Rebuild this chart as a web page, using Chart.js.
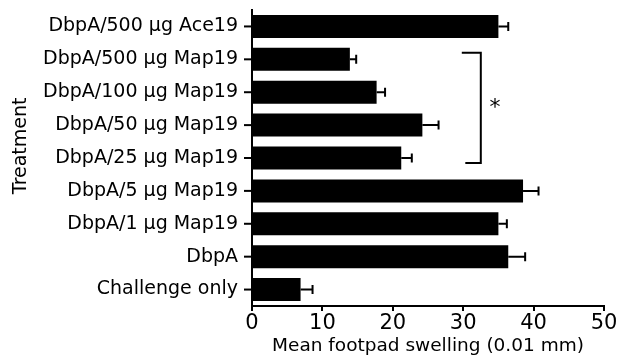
<!DOCTYPE html>
<html lang="en">
<head>
    <meta charset="UTF-8">
    <title>Mean footpad swelling</title>
    <script src="https://cdn.jsdelivr.net/npm/chart.js"></script>
    <style>
        body {
            margin: 0;
            background-color: white;
        }
    </style>
</head>
<body>
    <canvas id="swellingChart" width="618" height="359"></canvas>

    <script>
        const treatments = [
            'DbpA/500 μg Ace19',
            'DbpA/500 μg Map19',
            'DbpA/100 μg Map19',
            'DbpA/50 μg Map19',
            'DbpA/25 μg Map19',
            'DbpA/5 μg Map19',
            'DbpA/1 μg Map19',
            'DbpA',
            'Challenge only'
        ];
        const swelling = [35.0, 13.9, 17.7, 24.2, 21.2, 38.5, 35.0, 36.4, 6.9];
        const swellingErr = [1.4, 0.9, 1.2, 2.3, 1.5, 2.2, 1.2, 2.4, 1.7];
        const xTicks = [0, 10, 20, 30, 40, 50];

        // bracket around the Map19 groups that differ (*)
        const bracketFrom = 0.8;
        const bracketTo = 4.15;
        const bracketX = 32.5;
        const bracketTopStart = 29.8;
        const bracketBottomStart = 30.3;
        const starX = 34.5;
        const starY = 2.5;

        const fontFamily = '"DejaVu Sans", Arial, sans-serif';

        // error bars, y tick marks, bracket and the rotated y title
        const extras = {
            id: 'extras',
            afterDraw(chart) {
                const c = chart.ctx;
                const x = chart.scales.x;
                const y = chart.scales.y;
                const axisX = chart.chartArea.left;
                c.save();
                c.strokeStyle = 'black';
                c.lineWidth = 2;
                swelling.forEach((v, i) => {
                    const yc = y.getPixelForValue(i);
                    const x0 = x.getPixelForValue(v);
                    const x1 = x.getPixelForValue(v + swellingErr[i]);
                    c.beginPath();
                    c.moveTo(x0, yc);
                    c.lineTo(x1, yc);
                    c.moveTo(x1, yc - 4.5);
                    c.lineTo(x1, yc + 4.5);
                    c.stroke();
                });

                // tick marks on the y axis, at each category
                y.ticks.forEach((t, i) => {
                    const yc = y.getPixelForTick(i);
                    c.beginPath();
                    c.moveTo(axisX - 8, yc);
                    c.lineTo(axisX + 1, yc);
                    c.stroke();
                });

                c.beginPath();
                c.moveTo(x.getPixelForValue(bracketTopStart), y.getPixelForValue(bracketFrom));
                c.lineTo(x.getPixelForValue(bracketX), y.getPixelForValue(bracketFrom));
                c.lineTo(x.getPixelForValue(bracketX), y.getPixelForValue(bracketTo));
                c.lineTo(x.getPixelForValue(bracketBottomStart), y.getPixelForValue(bracketTo));
                c.stroke();

                c.fillStyle = 'black';
                c.font = '22px ' + fontFamily;
                c.textAlign = 'center';
                c.textBaseline = 'middle';
                c.fillText('*', x.getPixelForValue(starX), y.getPixelForValue(starY));

                c.font = '19px ' + fontFamily;
                c.translate(y.left + 21, y.getPixelForValue(3.63));
                c.rotate(-Math.PI / 2);
                c.fillText('Treatment', 0, 0);
                c.restore();
            }
        };

        const ctx = document.getElementById('swellingChart').getContext('2d');
        const swellingChart = new Chart(ctx, {
            type: 'bar',
            data: {
                labels: treatments,
                datasets: [{
                    data: swelling,
                    backgroundColor: 'black',
                    borderWidth: 0,
                    barPercentage: 0.7,
                    categoryPercentage: 1.0
                }]
            },
            options: {
                indexAxis: 'y',
                responsive: false,
                animation: false,
                layout: {
                    padding: { top: 10, right: 14, left: 0, bottom: 0 }
                },
                scales: {
                    x: {
                        min: 0,
                        max: 50,
                        afterBuildTicks(scale) {
                            scale.ticks = xTicks.map(v => ({ value: v }));
                        },
                        afterFit(scale) {
                            scale.height = 53;
                        },
                        border: { color: 'black', width: 2 },
                        grid: {
                            drawOnChartArea: false,
                            color: 'black',
                            lineWidth: 2,
                            tickLength: 5
                        },
                        ticks: {
                            color: 'black',
                            padding: 0,
                            maxRotation: 0,
                            font: { family: fontFamily, size: 21 }
                        },
                        title: {
                            display: true,
                            text: 'Mean footpad swelling (0.01 mm)',
                            color: 'black',
                            padding: { top: 0, bottom: 2 },
                            font: { family: fontFamily, size: 18.5 }
                        }
                    },
                    y: {
                        afterFit(scale) {
                            scale.width = 252;
                            scale.paddingTop = 0;
                            scale.paddingBottom = 0;
                        },
                        border: { color: 'black', width: 2 },
                        grid: {
                            drawOnChartArea: false,
                            color: 'rgba(0, 0, 0, 0)',
                            lineWidth: 2,
                            tickLength: 8
                        },
                        ticks: {
                            color: 'black',
                            padding: 6,
                            font: { family: fontFamily, size: 19 }
                        }
                    }
                },
                plugins: {
                    legend: { display: false },
                    tooltip: { enabled: false }
                }
            },
            plugins: [extras]
        });
    </script>
</body>
</html>
